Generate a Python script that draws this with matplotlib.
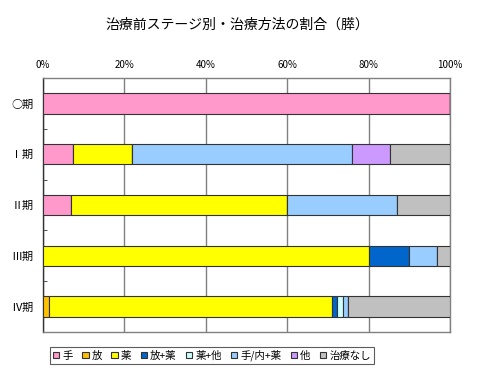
import matplotlib
matplotlib.use("Agg")
import matplotlib.pyplot as plt
import numpy as np

plt.rcParams['font.family'] = ['Noto Sans CJK JP', 'DejaVu Sans']

categories = ["○期", "Ⅰ期", "Ⅱ期", "Ⅲ期", "Ⅳ期"]
series_names = ["手", "放", "薬", "放+薬", "薬+他", "手/内+薬", "他", "治療なし"]
s_te      = [100.0, 7.4, 7.0, 0.0, 0.0]
s_hou     = [0.0, 0.0, 0.0, 0.0, 1.5]
s_yaku    = [0.0, 14.5, 53.0, 80.1, 69.4]
s_houyaku = [0.0, 0.0, 0.0, 9.9, 1.4]
s_yakuta  = [0.0, 0.0, 0.0, 0.0, 1.5]
s_tenai   = [0.0, 53.9, 26.9, 6.8, 1.2]
s_ta      = [0.0, 9.5, 0.0, 0.0, 0.0]
s_nashi   = [0.0, 14.7, 13.1, 3.2, 25.0]
series = [s_te, s_hou, s_yaku, s_houyaku, s_yakuta, s_tenai, s_ta, s_nashi]
colors = ["#FF99CC", "#FFC000", "#FFFF00", "#0066CC", "#CCFFFF", "#99CCFF", "#CC99FF", "#C0C0C0"]
xticks = [0, 20, 40, 60, 80, 100]
xticklabels = ["0%", "20%", "40%", "60%", "80%", "100%"]

fig = plt.figure(figsize=(4.8, 3.75), dpi=100)
ax = fig.add_axes([43/480, 1-332/375, (450-43)/480, (332-78)/375])

y = np.arange(len(categories))
left = np.zeros(len(categories))
handles = []
for name, vals, c in zip(series_names, series, colors):
    vals = np.array(vals)
    h = ax.barh(y, vals, left=left, height=0.4, color=c, edgecolor="#333333",
                linewidth=0.8, label=name, zorder=3)
    handles.append(h)
    left += vals

ax.set_xlim(0, 100)
ax.set_ylim(len(categories) - 0.5, -0.5)
ax.set_yticks(y)
ax.set_yticklabels(categories, fontsize=8)
ax.set_yticks(np.arange(len(categories) + 1) - 0.5, minor=True)
ax.tick_params(axis='y', which='major', length=0, pad=7)
ax.tick_params(axis='y', which='minor', direction='in', length=3, color="#333333")

ax.xaxis.tick_top()
ax.set_xticks(xticks)
ax.set_xticklabels(xticklabels, fontsize=7)
ax.tick_params(axis='x', length=0, pad=6)
ax.grid(axis='x', color="#808080", linewidth=1.0, zorder=0)

for sp in ax.spines.values():
    sp.set_color("#808080")
    sp.set_linewidth(1.0)
ax.spines['left'].set_color("#333333")

fig.text(237/480, 1-25/375, "治療前ステージ別・治療方法の割合（膵）", ha='center', va='center', fontsize=10)

leg = fig.legend(handles=handles, labels=series_names, loc='center',
                 bbox_to_anchor=(212/480, 1-355.5/375), ncol=8, fontsize=7.5,
                 frameon=True, fancybox=False, edgecolor="#333333",
                 handlelength=0.6, handleheight=0.6, handletextpad=0.3,
                 columnspacing=0.9, borderpad=0.3)
leg.get_frame().set_linewidth(0.8)

fig.savefig("out.png", dpi=100)
